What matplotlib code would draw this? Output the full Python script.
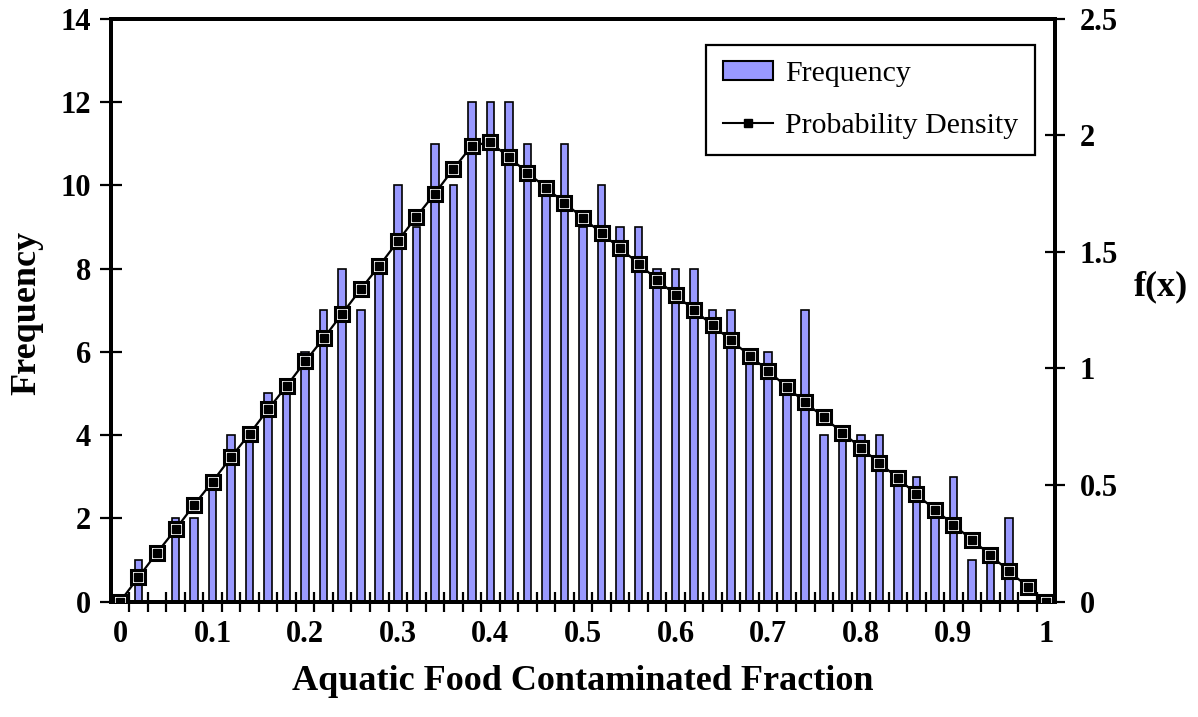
import numpy as np
import matplotlib
matplotlib.use("Agg")
import matplotlib.pyplot as plt
from matplotlib.lines import Line2D
from matplotlib.patches import Patch

plt.rcParams["font.family"] = ["Liberation Serif", "DejaVu Serif"]

# ── Data ──────────────────────────────────────────────────────────────────────

bins = [0.00, 0.02, 0.04, 0.06, 0.08, 0.10, 0.12, 0.14, 0.16, 0.18,
        0.20, 0.22, 0.24, 0.26, 0.28, 0.30, 0.32, 0.34, 0.36, 0.38,
        0.40, 0.42, 0.44, 0.46, 0.48, 0.50, 0.52, 0.54, 0.56, 0.58,
        0.60, 0.62, 0.64, 0.66, 0.68, 0.70, 0.72, 0.74, 0.76, 0.78,
        0.80, 0.82, 0.84, 0.86, 0.88, 0.90, 0.92, 0.94, 0.96, 0.98, 1.00]

frequency = [0, 1, 0, 2, 2, 3, 4, 4, 5, 5,
             6, 7, 8, 7, 8, 10, 9, 11, 10, 12,
             12, 12, 11, 10, 11, 9, 10, 9, 9, 8,
             8, 8, 7, 7, 6, 6, 5, 7, 4, 4,
             4, 4, 3, 3, 2, 3, 1, 1, 2, 0, 0]

density = [0.0, 0.105, 0.21, 0.31, 0.415, 0.515, 0.62, 0.72, 0.825, 0.925,
           1.03, 1.13, 1.235, 1.34, 1.44, 1.545, 1.65, 1.75, 1.855, 1.955,
           1.97, 1.905, 1.84, 1.775, 1.71, 1.645, 1.58, 1.515, 1.45, 1.38,
           1.315, 1.25, 1.185, 1.12, 1.055, 0.99, 0.92, 0.855, 0.79, 0.725,
           0.66, 0.595, 0.53, 0.46, 0.395, 0.33, 0.265, 0.2, 0.13, 0.065, 0.0]

x_labels = ["0", "0.1", "0.2", "0.3", "0.4", "0.5", "0.6", "0.7", "0.8", "0.9", "1"]
freq_ticks = [0, 2, 4, 6, 8, 10, 12, 14]
dens_ticks = [0, 0.5, 1, 1.5, 2, 2.5]
dens_labels = ["0", "0.5", "1", "1.5", "2", "2.5"]

BAR_COLOR = "#9999FF"
TICK_FS = 22
LABEL_FS = 26

# ── Figure ────────────────────────────────────────────────────────────────────

fig = plt.figure(figsize=(11.98, 7.17), dpi=100)
W, H = 1198, 717
left, right, top, bottom = 110.7, 1055.3, 18.6, 601.7
ax1 = fig.add_axes([left / W, 1 - bottom / H, (right - left) / W, (bottom - top) / H])
ax2 = ax1.twinx()

ax1.bar(bins, frequency, width=0.0082, color=BAR_COLOR,
        edgecolor="black", linewidth=1.2, zorder=2)

# density curve: black squares with a white inner ring
ax2.plot(bins, density, color="black", linewidth=1.6, zorder=3)
ax2.plot(bins, density, linestyle="none", marker="s", markersize=10.5,
         markerfacecolor="white", markeredgecolor="black",
         markeredgewidth=2.2, zorder=4)
ax2.plot(bins, density, linestyle="none", marker="s", markersize=6.2,
         markerfacecolor="black", markeredgecolor="black", zorder=5)

ax1.set_xlim(-0.01, 1.01)
ax1.set_ylim(0, 14)
ax2.set_ylim(0, 2.5)

# category-style x axis: labels every 0.1, tick marks between bins
label_pos = [float(s) for s in x_labels]
ax1.set_xticks(label_pos)
ax1.set_xticklabels(x_labels)
ax1.set_xticks([b + 0.01 for b in bins[:-1]], minor=True)
ax1.tick_params(axis="x", which="major", length=0, pad=13)
ax1.tick_params(axis="x", which="minor", direction="inout", length=15, width=1.6)

ax1.set_yticks(freq_ticks)
ax1.tick_params(axis="y", direction="inout", length=16, width=1.6, pad=6)
ax2.set_yticks(dens_ticks)
ax2.set_yticklabels(dens_labels)
ax2.tick_params(axis="y", direction="inout", length=15, width=1.6, pad=10)

for ax in (ax1, ax2):
    for lbl in ax.get_xticklabels() + ax.get_yticklabels():
        lbl.set_fontsize(TICK_FS)
        lbl.set_fontweight("bold")
    for sp in ax.spines.values():
        sp.set_linewidth(2.8)

fig.text(583 / W, 1 - 682 / H, "Aquatic Food Contaminated Fraction",
         fontsize=LABEL_FS, fontweight="bold", ha="center", va="center")
fig.text(27 / W, 1 - 313 / H, "Frequency", rotation=90,
         fontsize=LABEL_FS, fontweight="bold", ha="center", va="center")
fig.text(1161 / W, 1 - 287 / H, "f(x)",
         fontsize=LABEL_FS, fontweight="bold", ha="center", va="center")

handles = [
    Patch(facecolor=BAR_COLOR, edgecolor="black", linewidth=1.5),
    Line2D([], [], color="black", linewidth=1.5, marker="s", markersize=6,
           markerfacecolor="black", markeredgecolor="black"),
]
leg = ax2.legend(handles, ["Frequency", "Probability Density"],
                 loc="upper right", bbox_to_anchor=(1035 / W, 1 - 45 / H),
                 bbox_transform=fig.transFigure, borderaxespad=0,
                 fontsize=21.5, frameon=True, fancybox=False,
                 handlelength=1.7, handleheight=0.6, handletextpad=0.4,
                 labelspacing=0.85, borderpad=0.55)
leg.get_frame().set_edgecolor("black")
leg.get_frame().set_linewidth(1.6)
leg.get_frame().set_alpha(1)

fig.savefig("out.png", dpi=100)
